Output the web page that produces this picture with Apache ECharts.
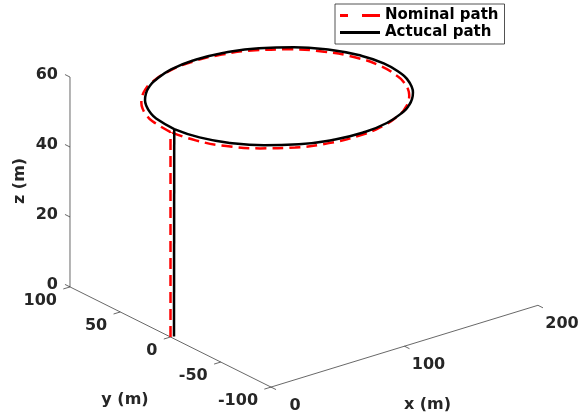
<!DOCTYPE html>
<html>
<head>
<meta charset="utf-8">
<script src="https://cdn.jsdelivr.net/npm/echarts@6/dist/echarts.min.js"></script>
<style>
  html, body { margin: 0; padding: 0; background: #fff; }
  #chart { width: 582px; height: 419px; }
</style>
</head>
<body>
<div id="chart"></div>
<script>
// Axis limits and tick values (metres)
const xLimits = [0, 200];
const yLimits = [-100, 100];
const zLimits = [0, 60];
const xTicks = [0, 100, 200];
const yTicks = [-100, -50, 0, 50, 100];
const zTicks = [0, 20, 40, 60];
const axisTitles = ['x (m)', 'y (m)', 'z (m)'];
const seriesNames = ['Nominal path', 'Actucal path'];

// Flight paths as [x, y, z] waypoints in metres: vertical climb, then the loop
const nominalClimb = [[0, 0, 0], [0, 0, 58.6]];
const nominalLoop = [
  [0.0, 0.0, 58.6], [1.6, 20.1, 58.6], [4.4, 29.7, 58.6], [8.5, 38.8, 58.6],
  [13.8, 47.3, 58.6], [20.2, 55.0, 58.6], [27.6, 61.8, 58.6], [35.9, 67.6, 58.6],
  [54.7, 75.6, 58.6], [75.1, 78.6, 58.6], [95.8, 76.3, 58.6], [115.4, 68.9, 58.6],
  [132.5, 56.9, 58.6], [146.1, 41.1, 58.6], [155.1, 22.6, 58.6], [158.9, 2.6, 58.6],
  [157.3, -17.4, 58.6], [154.5, -27.1, 58.6], [150.5, -36.2, 58.6], [145.2, -44.7, 58.6],
  [138.7, -52.4, 58.6], [131.3, -59.2, 58.6], [123.0, -65.0, 58.6], [104.2, -73.0, 58.6],
  [83.8, -75.9, 58.6], [63.1, -73.7, 58.6], [43.5, -66.3, 58.6], [26.4, -54.2, 58.6],
  [12.8, -38.5, 58.6], [3.9, -19.9, 58.6], [0.0, 0.0, 58.6]
];
const actualClimb = [[2.0, -0.8, 0], [2.2, -0.8, 59.3]];
const actualLoop = [
  [2.2, -0.8, 59.3], [3.7, 19.2, 59.3], [6.4, 28.7, 59.3], [10.5, 37.8, 59.3],
  [15.7, 46.2, 59.3], [22.1, 53.8, 59.3], [29.4, 60.5, 59.3], [37.7, 66.2, 59.3],
  [56.3, 74.1, 59.3], [76.6, 76.9, 59.3], [97.3, 74.5, 59.3], [116.9, 67.1, 59.3],
  [134.0, 55.1, 59.3], [147.6, 39.3, 59.3], [156.6, 20.9, 59.3], [160.6, 1.1, 59.3],
  [159.1, -18.8, 59.3], [156.3, -28.4, 59.3], [152.3, -37.4, 59.3], [147.1, -45.9, 59.3],
  [140.7, -53.5, 59.3], [133.4, -60.2, 59.3], [125.1, -65.9, 59.3], [106.5, -73.8, 59.3],
  [86.1, -76.6, 59.3], [65.5, -74.2, 59.3], [45.9, -66.8, 59.3], [28.8, -54.8, 59.3],
  [15.2, -39.0, 59.3], [6.2, -20.6, 59.3], [2.2, -0.8, 59.3]
];

// Orthographic view: azimuth / elevation in degrees and plot-box scale per metre
const VIEW = { az: 38.1, el: 23.0 };
const BOX = { x: 1.696, y: 1.629, z: 3.80 };
const AXIS_COLOR = '#262626';
const FONT = 'DejaVu Sans';
const TICK_LEN = 5;

const A = VIEW.az * Math.PI / 180, E = VIEW.el * Math.PI / 180;
function project(p) {
  const X = p[0] * BOX.x, Y = p[1] * BOX.y, Z = p[2] * BOX.z;
  return [
    X * Math.cos(A) - Y * Math.sin(A),
    X * Math.sin(A) * Math.sin(E) + Y * Math.cos(A) * Math.sin(E) + Z * Math.cos(E)
  ];
}

function frameItem(params, api) {
  const P = (x, y, z) => api.coord(project([x, y, z]));
  const children = [];
  const seg = (a, b) => children.push({
    type: 'line', shape: { x1: a[0], y1: a[1], x2: b[0], y2: b[1] },
    style: { stroke: AXIS_COLOR, lineWidth: 0.7 }
  });
  const label = (text, x, y, align, rotation) => children.push({
    type: 'text', x: x, y: y, rotation: rotation || 0,
    style: { text: text, fill: AXIS_COLOR, fontFamily: FONT, fontWeight: 'bold', fontSize: 16,
             align: align, verticalAlign: 'middle' }
  });
  const [x0, x1] = xLimits, [y0, y1] = yLimits, [z0, z1] = zLimits;
  seg(P(x0, y0, z0), P(x1, y0, z0));
  seg(P(x0, y0, z0), P(x0, y1, z0));
  seg(P(x0, y1, z0), P(x0, y1, z1));
  xTicks.forEach(v => {
    const a = P(v, y0, z0);
    seg(a, P(v, y0 - TICK_LEN, z0));
    label(String(v), a[0] + 24, a[1] + 19, 'center');
  });
  yTicks.forEach(v => {
    const a = P(x0, v, z0);
    seg(a, P(x0 - TICK_LEN, v, z0));
    label(String(v), a[0] - 13, a[1] + 13.5, 'right');
  });
  zTicks.forEach(v => {
    const a = P(x0, y1, v);
    seg(a, P(x0, y1 + TICK_LEN, v));
    label(String(v), a[0] - 12, a[1] - 2, 'right');
  });
  const xm = P((x0 + x1) / 2, y0, z0);
  label(axisTitles[0], xm[0] + 23, xm[1] + 59, 'center');
  const ym = P(x0, (y0 + y1) / 2, z0);
  label(axisTitles[1], ym[0] - 45.5, ym[1] + 63, 'center');
  const zm = P(x0, y1, (z0 + z1) / 2);
  label(axisTitles[2], zm[0] - 50, zm[1] - 1, 'center', Math.PI / 2);
  return { type: 'group', children: children };
}

function pathSeries(name, pts, color, dashed, smooth) {
  return {
    type: 'line', name: name, data: pts.map(project),
    showSymbol: false, symbol: 'none', smooth: smooth, silent: true,
    itemStyle: { color: color },
    lineStyle: { color: color, width: 2.5, type: dashed ? [11, 6] : 'solid', cap: 'butt' },
    z: 3
  };
}

const chart = echarts.init(document.getElementById('chart'), null, { renderer: 'canvas' });
chart.setOption({
  animation: false,
  backgroundColor: '#fff',
  grid: { left: 0, top: 0, width: 582, height: 419 },
  xAxis: { type: 'value', min: -170.5, max: 411.5, show: false },
  yAxis: { type: 'value', min: -82, max: 337, show: false },
  legend: {
    orient: 'vertical', left: 335, top: 4,
    padding: [4, 6, 4, 5], itemGap: 2, itemWidth: 40, itemHeight: 3,
    borderColor: AXIS_COLOR, borderWidth: 0.8, backgroundColor: '#fff',
    selectedMode: false,
    itemStyle: { borderWidth: 0 },
    textStyle: { fontFamily: FONT, fontWeight: 'bold', fontSize: 15, color: '#000' },
    data: [
      { name: seriesNames[0], icon: 'path://M0 0H8V3H0Z M22 0H40V3H22Z', itemStyle: { color: '#ff0000' } },
      { name: seriesNames[1], icon: 'path://M0 0H40V3H0Z', itemStyle: { color: '#000000' } }
    ]
  },
  series: [
    {
      type: 'custom', name: 'frame', silent: true, z: 1,
      renderItem: frameItem, data: [[0, 0]]
    },
    pathSeries(seriesNames[0], nominalClimb, '#ff0000', true, false),
    pathSeries(seriesNames[0], nominalLoop, '#ff0000', true, 0.5),
    pathSeries(seriesNames[1], actualClimb, '#000000', false, false),
    pathSeries(seriesNames[1], actualLoop, '#000000', false, 0.5)
  ]
});
</script>
</body>
</html>
